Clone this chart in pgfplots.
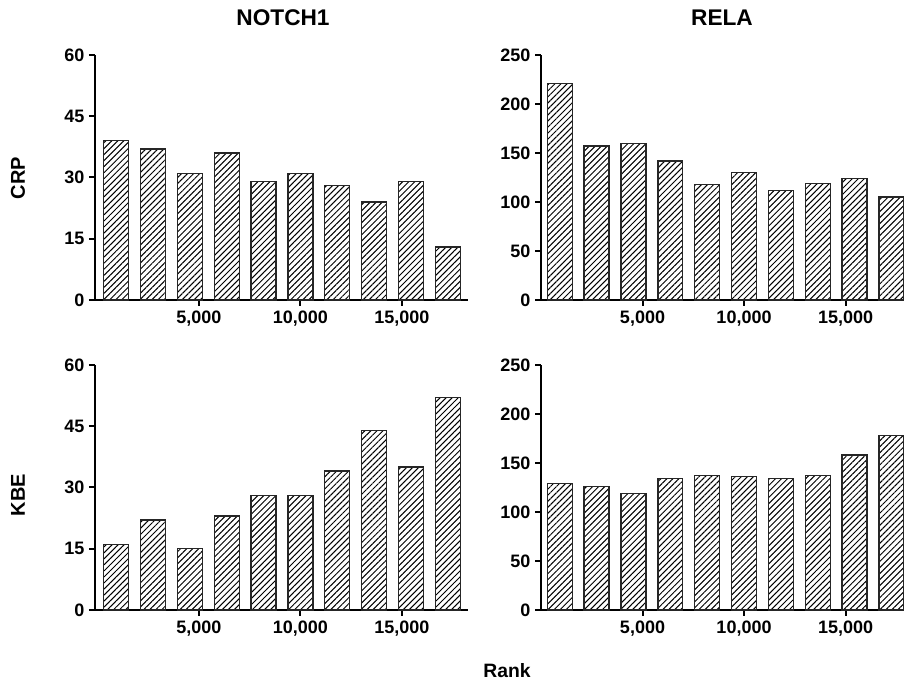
\documentclass[border=0pt]{standalone}
\usepackage{fontspec}
\setmainfont{Liberation Sans}
\usepackage{pgfplots}
\pgfplotsset{compat=1.18}
\usetikzlibrary{patterns.meta}
\begin{document}
\begin{tikzpicture}
\useasboundingbox (0pt,0pt) rectangle (678pt,510.75pt);
\pgfplotsset{
  panel/.style={
    scale only axis, anchor=south west,
    height=183.75pt,
    axis lines=left, axis line style={-, line width=2pt},
    ymin=0,
    xtick={5000,10000,15000},
    xticklabels={{5,000},{10,000},{15,000}},
    tick style={line width=1.5pt, black},
    major tick length=4.5pt,
    tick align=outside,
    ticklabel style={font=\fontsize{13.5}{15}\selectfont\bfseries},
    /pgf/number format/assume math mode=true,
    scaled y ticks=false,
    scaled x ticks=false,
    clip=false,
  },
  left panel/.style={panel, width=279.75pt, xmin=-120, xmax=18255, ymax=60, ytick={0,15,30,45,60}},
  right panel/.style={panel, width=272.25pt, xmin=0, xmax=17880, ymax=250, ytick={0,50,100,150,200,250}},
  hbar/.style={ybar, bar width=1230, bar shift=0pt, draw=black!85, line width=1pt,
    pattern={Lines[angle=45,distance=3.2pt,line width=0.75pt]}},
}
% CRP / NOTCH1
\begin{axis}[left panel, at={(71.25pt,285.75pt)}]
\addplot[hbar] coordinates {(925,39) (2740,37) (4555,31) (6370,36) (8185,29) (10000,31) (11815,28) (13630,24) (15445,29) (17260,13)};
\end{axis}
% CRP / RELA
\begin{axis}[right panel, at={(405.75pt,285.75pt)}]
\addplot[hbar] coordinates {(925,221) (2740,157) (4555,160) (6370,142) (8185,118) (10000,130) (11815,112) (13630,119) (15445,124) (17260,105)};
\end{axis}
% KBE / NOTCH1
\begin{axis}[left panel, at={(71.25pt,53.25pt)}]
\addplot[hbar] coordinates {(925,16) (2740,22) (4555,15) (6370,23) (8185,28) (10000,28) (11815,34) (13630,44) (15445,35) (17260,52)};
\end{axis}
% KBE / RELA
\begin{axis}[right panel, at={(405.75pt,53.25pt)}]
\addplot[hbar] coordinates {(925,129) (2740,126) (4555,119) (6370,134) (8185,137) (10000,136) (11815,134) (13630,137) (15445,158) (17260,178)};
\end{axis}
\node[font=\fontsize{17}{20}\selectfont\bfseries] at (212.25pt,497.25pt) {NOTCH1};
\node[font=\fontsize{17}{20}\selectfont\bfseries] at (541.5pt,497.25pt) {RELA};
\node[font=\fontsize{15}{18}\selectfont\bfseries, rotate=90] at (13.5pt,377.25pt) {CRP};
\node[font=\fontsize{15}{18}\selectfont\bfseries, rotate=90] at (13.5pt,139.5pt) {KBE};
\node[font=\fontsize{14.5}{17}\selectfont\bfseries] at (380.25pt,7.5pt) {Rank};
\end{tikzpicture}
\end{document}
